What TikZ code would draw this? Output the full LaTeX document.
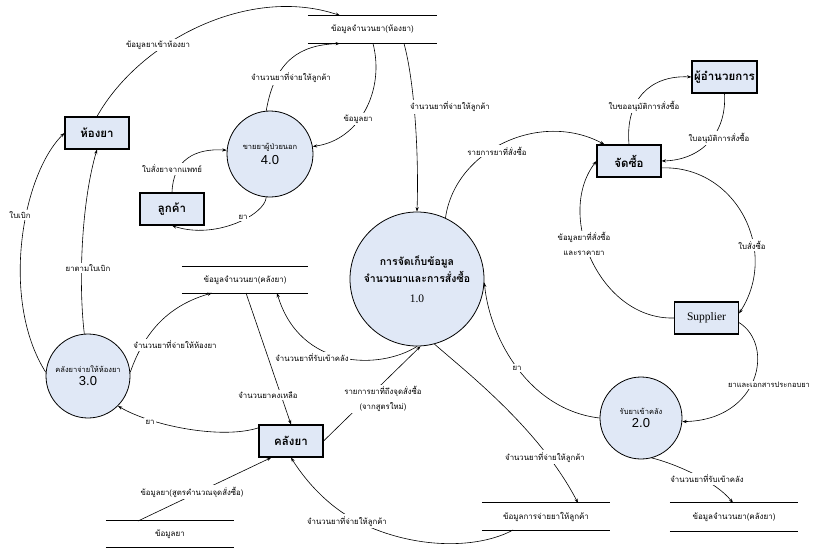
\documentclass[tikz,border=0pt]{standalone}
\usepackage{fontspec}
\setmainfont{Liberation Serif}
\newfontfamily\thai[Script=Thai]{Loma}
\newfontfamily\arialf{Liberation Sans}
\usetikzlibrary{arrows.meta}
\definecolor{bfill}{RGB}{224,232,246}
\tikzset{
  ent/.style={draw, fill=bfill, line width=1.1pt, minimum width=64pt, minimum height=32pt, inner sep=0pt, font=\thai\bfseries\fontsize{11.5}{13}\selectfont},
  proc/.style={circle, draw, fill=bfill, line width=0.8pt, inner sep=0pt, align=center, font=\thai\fontsize{7.5}{9}\selectfont},
  lbl/.style={fill=white, inner sep=1.5pt, align=center, font=\thai\fontsize{7.8}{15}\selectfont},
  storetxt/.style={inner sep=0pt, font=\thai\fontsize{8}{9}\selectfont},
  stline/.style={line width=0.8pt},
  fl/.style={line width=0.6pt},
  ar/.style={fl, -{Stealth[length=4.5pt,width=3.2pt]}},
  num/.style={font=\arialf\fontsize{12}{12}\selectfont}
}
\begin{document}
\begin{tikzpicture}[x=1pt,y=-1pt]
\fill[white] (0,0) rectangle (813,552);
\useasboundingbox (0,0) rectangle (813,552);

% external entities
\node[ent] (hong) at (97,133) {ห้องยา};
\node[ent] (cust) at (172,209) {ลูกค้า};
\node[ent] (buy) at (629,161) {จัดซื้อ};
\node[ent, minimum width=65pt] (dir) at (724.5,77) {ผู้อำนวยการ};
\node[ent, font=\rmfamily\fontsize{11.5}{13}\selectfont] (sup) at (706.5,318) {Supplier};
\node[ent] (kl) at (291,441) {คลังยา};

% processes
\node[proc, minimum size=86pt] (p4) at (270,154) {ขายยาผู้ป่วยนอก\\[3pt]{\arialf\fontsize{13}{13}\selectfont 4.0}};
\node[proc, minimum size=134pt, font=\thai\bfseries\fontsize{10.5}{17}\selectfont] (p1) at (417,279) {การจัดเก็บข้อมูล\\จำนวนยาและการสั่งซื้อ\\[3pt]{\rmfamily\mdseries\fontsize{11.5}{11.5}\selectfont 1.0}};
\node[proc, minimum size=84pt] (p3) at (88,376) {คลังยาจ่ายให้ห้องยา\\[3pt]{\arialf\fontsize{13}{13}\selectfont 3.0}};
\node[proc, minimum size=82pt] (p2) at (641,418) {รับยาเข้าคลัง\\[3pt]{\arialf\fontsize{13}{13}\selectfont 2.0}};

% data stores
\node[storetxt, minimum width=129pt, minimum height=28pt] (sA) at (372.5,29.5) {ข้อมูลจำนวนยา(ห้องยา)};
\node[storetxt, minimum width=126pt, minimum height=26pt] (sK) at (245,280) {ข้อมูลจำนวนยา(คลังยา)};
\node[storetxt, minimum width=128pt, minimum height=26pt] (sD) at (170,534) {ข้อมูลยา};
\node[storetxt, minimum width=128pt, minimum height=27pt] (sP) at (546,516.5) {ข้อมูลการจ่ายยาให้ลูกค้า};
\node[storetxt, minimum width=128pt, minimum height=28pt] (sK2) at (734,517) {ข้อมูลจำนวนยา(คลังยา)};
\foreach \s in {sA,sK,sD,sP,sK2}{
  \draw[stline] (\s.north west) -- (\s.north east) (\s.south west) -- (\s.south east);
}

% connection points on stores
\coordinate (a1) at (340,15.5);
\coordinate (a2) at (340,43.5);
\coordinate (a3) at (373,43.5);
\coordinate (a4) at (404,43.5);
\coordinate (k1) at (212,293);
\coordinate (k2) at (246,293);
\coordinate (k3) at (277,293);
\coordinate (d1) at (138,521);
\coordinate (q1) at (578,503);
\coordinate (q2) at (513,530);
\coordinate (r1) at (733,503);

% flows
\draw[ar] (hong.north) .. controls (140,40) and (250,-15) .. (a1);
\draw[ar] (p4.95) .. controls (275,60) and (300,45) .. (a2);
\draw[ar] (a3) .. controls (385,90) and (360,140) .. (p4.10);
\draw[ar] (a4) .. controls (414,80) and (419,150) .. (p1.north);
\draw[ar] (cust.north) .. controls (173,160) and (195,148) .. (p4.175);
\draw[ar] (p4.265) .. controls (265,215) and (215,240) .. (cust.south);
\draw[ar] (p3.175) .. controls (0,300) and (22,175) .. (hong.west);
\draw[ar] (p3.95) .. controls (78,280) and (82,200) .. (hong.south);
\draw[ar] (p3.5) .. controls (145,330) and (170,305) .. (k1);
\draw[ar] (k2) -- (kl.north);
\draw[ar] (p1.south) .. controls (380,370) and (300,370) .. (k3);
\draw[ar] (kl.east) -- (p1.273);
\draw[ar] (p1.285) .. controls (470,375) and (540,430) .. (q1);
\draw[ar] (q2) .. controls (480,548) and (420,550) .. (365,525) .. controls (330,510) and (305,480) .. (kl.south);
\draw[ar] (d1) -- (kl.220);
\draw[ar] (kl.158) .. controls (220,440) and (150,425) .. (p3.315);
\draw[ar] (p2.west) .. controls (530,410) and (490,340) .. (p1.357);
\draw[ar] (sup.352) .. controls (775,345) and (760,420) .. (p2.355);
\draw[ar] (buy.348) .. controls (735,165) and (780,250) .. (sup.8);
\draw[ar] (sup.west) .. controls (600,320) and (555,215) .. (buy.west);
\draw[ar] (p1.65) .. controls (455,150) and (540,110) .. (buy.146);
\draw[ar] (buy.north) .. controls (625,100) and (650,75) .. (dir.west);
\draw[ar] (dir.south) .. controls (727,135) and (700,160) .. (buy.east);
\draw[ar] (p2.285) .. controls (670,462) and (715,480) .. (r1);

% flow labels
\node[lbl] (l1) at (158,45) {ข้อมูลยาเข้าห้องยา};
\node[lbl] (l2) at (291,78) {จำนวนยาที่จ่ายให้ลูกค้า};
\node[lbl] (l3) at (358,119) {ข้อมูลยา};
\node[lbl] (l4) at (450,107) {จำนวนยาที่จ่ายให้ลูกค้า};
\node[lbl] (l5) at (172,169) {ใบสั่งยาจากแพทย์};
\node[lbl] (l6) at (243,217) {ยา};
\node[lbl] (l7) at (20,215) {ใบเบิก};
\node[lbl] (l8) at (88,268) {ยาตามใบเบิก};
\node[lbl] (l9) at (175,345) {จำนวนยาที่จ่ายให้ห้องยา};
\node[lbl] (l10) at (268,395) {จำนวนยาคงเหลือ};
\node[lbl] (l11) at (312,358) {จำนวนยาที่รับเข้าคลัง};
\node[lbl] (l12) at (383,399) {รายการยาที่ถึงจุดสั่งซื้อ\\(จากสูตรใหม่)};
\node[lbl] (l13) at (545,457) {จำนวนยาที่จ่ายให้ลูกค้า};
\node[lbl] (l14) at (347,521) {จำนวนยาที่จ่ายให้ลูกค้า};
\node[lbl] (l15) at (192,492) {ข้อมูลยา(สูตรคำนวณจุดสั่งซื้อ)};
\node[lbl] (l16) at (150,422) {ยา};
\node[lbl] (l17) at (517,368) {ยา};
\node[lbl, font=\thai\fontsize{7.5}{15}\selectfont] (l18) at (769,385) {ยาและเอกสารประกอบยา};
\node[lbl] (l19) at (752,245) {ใบสั่งซื้อ};
\node[lbl] (l20) at (584,244) {ข้อมูลยาที่สั่งซื้อ\\และราคายา};
\node[lbl] (l21) at (497,151) {รายการยาที่สั่งซื้อ};
\node[lbl] (l22) at (644,106) {ใบขออนุมัติการสั่งซื้อ};
\node[lbl] (l23) at (719,138) {ใบอนุมัติการสั่งซื้อ};
\node[lbl] (l24) at (707,479) {จำนวนยาที่รับเข้าคลัง};
\end{tikzpicture}
\end{document}
